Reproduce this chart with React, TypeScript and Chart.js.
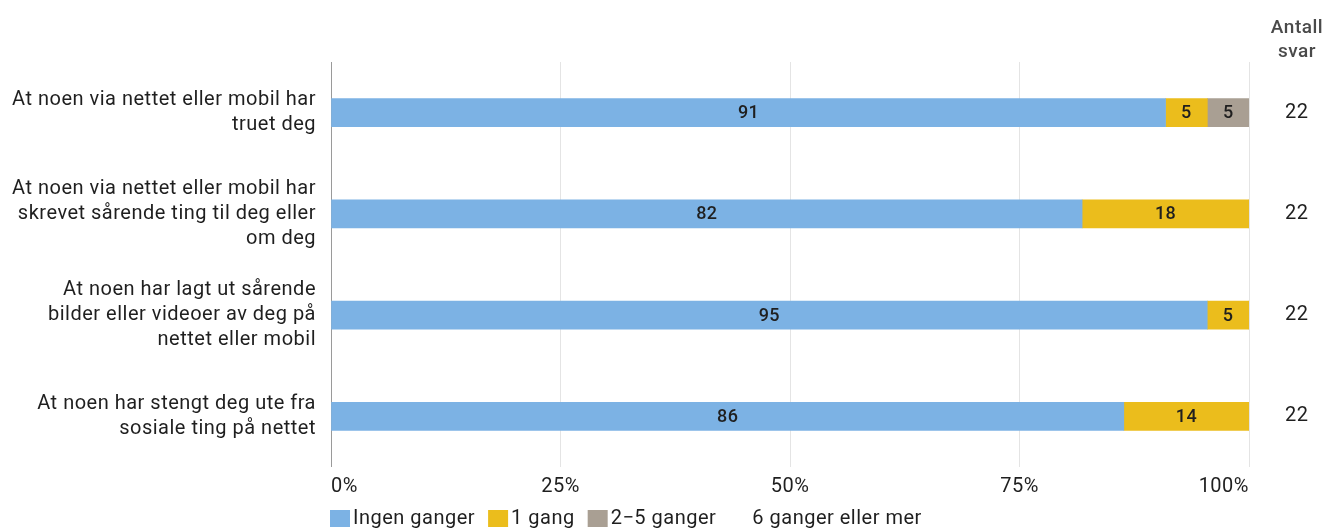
import React, { useEffect, useRef } from 'react';
import { Chart, registerables } from 'chart.js';

Chart.register(...registerables);

const categories: string[][] = [
  ['At noen via nettet eller mobil har', 'truet deg'],
  ['At noen via nettet eller mobil har', 'skrevet sårende ting til deg eller', 'om deg'],
  ['At noen har lagt ut sårende', 'bilder eller videoer av deg på', 'nettet eller mobil'],
  ['At noen har stengt deg ute fra', 'sosiale ting på nettet'],
];
const seriesNames = ['Ingen ganger', '1 gang', '2\u22125 ganger', '6 ganger eller mer'];
const ingenGanger = [90.91, 81.82, 95.45, 86.36];
const enGang = [4.55, 18.18, 4.55, 13.64];
const toTilFemGanger = [4.55, 0, 0, 0];
const seksEllerMer = [0, 0, 0, 0];
const antallSvar = [22, 22, 22, 22];
const antallHeader = ['Antall', 'svar'];
const xTickStep = 25;

const colors = ['#7cb2e4', '#ebbd1c', '#a99f93', '#ffffff'];
const FONT = 'Roboto';
const LS = '0.5px';
const SIZE = 20;
const TEXT = '#1f1f1f';

export default function App() {
  const ref = useRef<HTMLCanvasElement>(null);

  useEffect(() => {
    const canvas = ref.current;
    if (!canvas) return;

    const spacingPlugin = {
      id: 'spacing',
      beforeUpdate(chart: any) { chart.ctx.letterSpacing = LS; },
      beforeDraw(chart: any) { chart.ctx.letterSpacing = LS; },
    };

    const valueLabels = {
      id: 'valueLabels',
      afterDatasetsDraw(chart: any) {
        const ctx = chart.ctx;
        ctx.save();
        ctx.letterSpacing = '0.4px';
        ctx.font = `500 18px ${FONT}`;
        ctx.fillStyle = TEXT;
        ctx.textAlign = 'center';
        ctx.textBaseline = 'middle';
        chart.data.datasets.forEach((ds: any, i: number) => {
          const meta = chart.getDatasetMeta(i);
          meta.data.forEach((el: any, j: number) => {
            const v = ds.data[j] as number;
            if (!v) return;
            const p = el.getCenterPoint();
            ctx.fillText(String(Math.round(v)), p.x, p.y + 1);
          });
        });
        ctx.restore();
      },
      afterDraw(chart: any) {
        const ctx = chart.ctx;
        const area = chart.chartArea;
        ctx.save();
        ctx.letterSpacing = LS;
        // header of right column
        ctx.font = `500 19px ${FONT}`;
        ctx.fillStyle = '#4a4a4a';
        ctx.textAlign = 'center';
        ctx.textBaseline = 'alphabetic';
        const hx = area.right + 48;
        ctx.fillText(antallHeader[0], hx, 33);
        ctx.fillText(antallHeader[1], hx, 57);
        // legend
        ctx.font = `${SIZE}px ${FONT}`;
        ctx.textAlign = 'left';
        ctx.textBaseline = 'middle';
        let x = area.left - 1;
        const yc = 519;
        seriesNames.forEach((name, i) => {
          ctx.fillStyle = colors[i];
          ctx.fillRect(x, yc - 9, 20, 17);
          x += 23;
          ctx.fillStyle = TEXT;
          ctx.fillText(name, x, yc);
          x += ctx.measureText(name).width + 13;
        });
        ctx.restore();
      },
    };

    const datasets = [ingenGanger, enGang, toTilFemGanger, seksEllerMer].map((d, i) => ({
      label: seriesNames[i],
      data: d,
      backgroundColor: colors[i],
      borderWidth: 0,
      barThickness: 28,
      yAxisID: 'y',
    }));

    const chart = new Chart(canvas, {
      type: 'bar',
      data: { labels: categories as any, datasets },
      options: {
        indexAxis: 'y',
        responsive: false,
        animation: false,
        layout: { padding: { top: 62, bottom: 30, left: 0, right: 0 } },
        plugins: {
          legend: { display: false },
          tooltip: { enabled: false },
        },
        scales: {
          x: {
            type: 'linear',
            stacked: true,
            min: 0,
            max: 100,
            border: { display: false },
            grid: {
              drawTicks: false,
              color: (c: any) => (c.tick && c.tick.value === 0 ? '#9a9a9a' : '#e4e4e4'),
              lineWidth: 1,
            },
            ticks: {
              stepSize: xTickStep,
              align: 'inner',
              padding: 8,
              color: TEXT,
              font: { family: FONT, size: SIZE, lineHeight: 1.2 },
              callback: (v: any) => `${v}%`,
            },
            afterFit: (s: any) => { s.height = 34; },
          },
          y: {
            type: 'category',
            stacked: true,
            border: { display: false },
            grid: { display: false, drawTicks: false },
            ticks: {
              padding: 15,
              color: TEXT,
              font: { family: FONT, size: SIZE, lineHeight: '25px' as any },
            },
            afterFit: (s: any) => { s.width = 331; },
          },
          y2: {
            type: 'category',
            position: 'right',
            labels: antallSvar.map(String),
            offset: true,
            border: { display: false },
            grid: { display: false, drawTicks: false },
            ticks: {
              padding: 36,
              color: TEXT,
              font: { family: FONT, size: SIZE },
            },
            afterFit: (s: any) => { s.width = 77; },
          },
        },
      } as any,
      plugins: [spacingPlugin, valueLabels],
    });

    return () => chart.destroy();
  }, []);

  return (
    <div style={{ position: 'fixed', left: 0, top: 0, width: 1326, height: 531, background: '#ffffff' }}>
      <canvas ref={ref} width={1326} height={531} style={{ display: 'block' }} />
    </div>
  );
}
